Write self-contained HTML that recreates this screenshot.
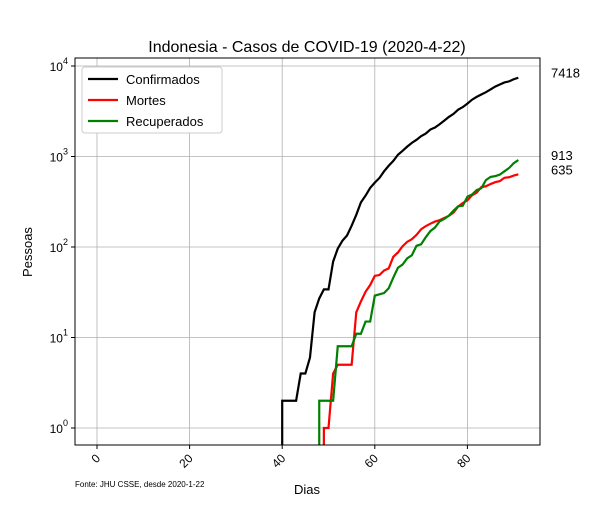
<!DOCTYPE html>
<html><head><meta charset="utf-8"><style>body{margin:0;background:#fff}svg{font-family:"Liberation Sans","DejaVu Sans",sans-serif}</style></head>
<body>
<svg id="c" width="600" height="500" xmlns="http://www.w3.org/2000/svg"></svg>
<script>
const confStart = 40;
const confirmed = [2,2,2,2,4,4,6,19,27,34,34,69,96,117,134,172,227,311,369,450,514,579,686,790,893,1046,1155,1285,1414,1528,1677,1790,1986,2092,2273,2491,2738,2956,3293,3512,3842,4241,4557,4839,5136,5516,5923,6248,6575,6760,7135,7418];
const deathStart = 49;
const deaths = [1,1,4,5,5,5,5,19,25,32,38,48,49,55,58,78,87,102,114,122,136,157,170,181,191,198,209,221,240,280,306,327,373,399,459,469,496,520,535,582,590,616,635];
const recStart = 48;
const recovered = [2,2,2,2,8,8,8,8,11,11,15,15,29,30,31,35,46,59,64,75,81,103,107,128,150,164,192,204,222,252,282,286,359,380,426,446,548,595,607,631,686,747,842,913];
const xTicks = [0,20,40,60,80];
const yTicks = [0,1,2,3,4];
const seriesNames = ["Confirmados","Mortes","Recuperados"];
const colors = ["#000","#f00","#008000"];

const L=75,R=540,T=58,B=445;
const X=d=>97+d*4.63;
const Y=v=>428-Math.log10(v)*90.5;
const svg=document.getElementById('c');
const NS='http://www.w3.org/2000/svg';
function mk(t,a,p){const e=document.createElementNS(NS,t);for(const k in a)e.setAttribute(k,a[k]);(p||svg).appendChild(e);return e;}

const clip=mk('clipPath',{id:'pc'});mk('rect',{x:L,y:T,width:R-L,height:B-T},clip);
xTicks.forEach(t=>{
  const g=mk('line',{x1:X(t),x2:X(t),y1:T,y2:B,stroke:'#b0b0b0','stroke-width':0.8});
  
  
  mk('line',{x1:X(t),x2:X(t),y1:B,y2:B+4,stroke:'#000'});
  const tx=mk('text',{x:X(t)+4,y:B+14,'font-size':12,'text-anchor':'end',transform:`rotate(-45 ${X(t)+4} ${B+14})`});
  tx.textContent=t;
  
  
});
yTicks.forEach(t=>{
  const g=mk('line',{x1:L,x2:R,y1:Y(Math.pow(10,t)),y2:Y(Math.pow(10,t)),stroke:'#b0b0b0','stroke-width':0.8});
  
  
  mk('line',{x1:L-4,x2:L,y1:Y(Math.pow(10,t)),y2:Y(Math.pow(10,t)),stroke:'#000'});
  const tx=mk('text',{x:L-7,y:Y(Math.pow(10,t))+5,'font-size':12,'text-anchor':'end'});
  tx.innerHTML='10<tspan dy="-7" font-size="9">'+t+'</tspan>';
  
  
});
function series(start,vals,col,name){
  let d=`M${X(start)},${B+5}`;
  vals.forEach((v,i)=>{d+=`L${X(start+i)},${Y(v)}`;});
  const p=mk('path',{d,fill:'none',stroke:col,'stroke-width':2.2,'clip-path':'url(#pc)'});
  
  
}
series(confStart,confirmed,colors[0],'confirmed-line');
series(deathStart,deaths,colors[1],'deaths-line');
series(recStart,recovered,colors[2],'recovered-line');
const fr=mk('rect',{x:L,y:T,width:R-L,height:B-T,fill:'none',stroke:'#000','stroke-width':1});


[confirmed,recovered,deaths].forEach(arr=>{
  const v=arr[arr.length-1];
  const tx=mk('text',{x:551,y:Y(v),'font-size':13});
  tx.textContent=v;
  
  
});
const lg=mk('g',{});


mk('rect',{x:82,y:67,width:140,height:66,rx:3,fill:'#fff',stroke:'#ccc'},lg);
seriesNames.forEach((n,i)=>{
  const y=79+i*21;
  mk('line',{x1:88,x2:118,y1:y,y2:y,stroke:colors[i],'stroke-width':2.2},lg);
  const tx=mk('text',{x:126,y:y+5,'font-size':13},lg);
  tx.textContent=n;
  
  
});
function txt(s,a,name){const t=mk('text',a);t.textContent=s;}
txt('Indonesia - Casos de COVID-19 (2020-4-22)',{x:307,y:52,'font-size':16,'text-anchor':'middle'},'chart-title');
txt('Dias',{x:307,y:494,'font-size':13,'text-anchor':'middle'},'x-axis-title');
txt('Pessoas',{x:32,y:252,'font-size':13,'text-anchor':'middle',transform:'rotate(-90 32 252)'},'y-axis-title');
txt('Fonte: JHU CSSE, desde 2020-1-22',{x:75,y:487,'font-size':8},'source-note');
</script>
</body></html>
